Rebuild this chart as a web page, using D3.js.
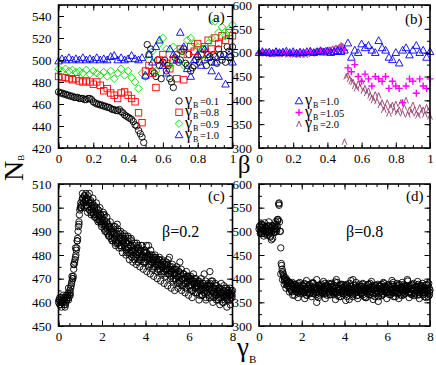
<!DOCTYPE html>
<html><head><meta charset="utf-8">
<script src="https://cdn.jsdelivr.net/npm/d3@7"></script>
<style>body{margin:0;background:#fff}svg{display:block}text{font-family:"Liberation Serif","Times New Roman",serif;fill:#000}</style>
</head><body><svg id="c" width="436" height="365"></svg>
<script>
// ---------- DATA ----------
// panel (a): N_B vs beta
const aG01 = [471,470,470,469,469,468,468,467,467,466, 466,466,465,465,465,464,464,465,465,464,
  462,461,460,460,459,459,458,458,457,457, 456,455,455,454,454,455,453,452,450,449,
  448,447,446,444,441,440,436,433,430,425, 485,514,505,510,490,488,485,500,495,483,
  498,500,490,495,483,480,475,502,505,498, 500,508,510,497,495,505,490,493,495,500,
  503,498,505,510,500,495,505,503,498,505, 503,497,510,505,500,505,498,512,508,503, 512]; // step 0.01
const aG08 = [485,484,484,483,482,483,481,480,481,480,478,480,477,472,474,470,468,465,470,471,468,465,462,452,443,
  490,495,488,475,500,505,497,492,500,483,510,482,505,512,508,515,505,512,518,510,520,515,522,518,525,522]; // step 0.02
const aG09 = [492,490,492,490,491,489,490,488,491,487,490,488,486,489,485,490,483,488,492,486,490,484,480,474,488,
  485,500,508,490,515,520,510,495,512,500,508,495,518,520,515,512,510,500,515,520,535,525,530,522,528,532];
const aG10 = [499,501,500,502,500,501,500,502,500,501,500,502,500,501,500,503,504,500,502,500,501,504,501,500,502,
  486,505,498,512,518,495,488,510,505,500,525,512,492,485,500,505,495,510,502,490,498,485,503,478,505,498];
const aLabels = ["=0.1","=0.8","=0.9","=1.0"];

// panel (b)
const bG10 = [500,502,500,501,499,502,500,501,503,500,502,499,501,500,502,503,500,502,504,501,503,500,502,504,502,
  505,520,490,505,500,518,510,515,505,500,525,510,505,490,485,500,478,505,510,495,505,515,500,505,490,502]; // step 0.02
const bG105 = [499,501,500,498,500,502,499,501,500,498,500,499,501,498,500,502,500,501,503,502,504,505,506,507,510,
  505,468,460,475,450,440,455,445,430,450,445,440,450,425,440,430,425,395,430,445,440,415,445,430,425,445];
const bG20 = [500,499,500,498,499,500,498,499,497,499, 498,500,497,499,498,497,499,496,498,497,
  497,496,498,495,497,496,498,495,497,499, 500,498,501,502,500,503,501,504,502,505,
  503,506,504,508,506,510,508,512,515,513, 313,450,452,445,440,438,430,425,435,428,
  440,420,425,415,420,410,405,400,412,398, 410,390,395,380,385,395,372,385,390,378,
  392,375,380,395,372,385,400,370,380,375, 390,380,372,368,385,375,380,370,385,378, 366]; // step 0.01
const bLabels = ["=1.0","=1.05","=2.0"];

// panel (c): beta = 0.2, N_B vs gamma_B  (interleaved sweeps)
const cRunA = [460,461,459,460,461,460,462,461,459,463,462,464,462,465,466,468,470,471,476,478,480,483,487,492,497,
  500,501,503,504,502,505,503,504,501,505,502,499,503,500,502,498,501,499,497,500,497,499,495,497,494,
  496,495,493,497,492,494,491,493,490,492,489,491,488,490,487,492,486,489,491,485,487,489,484,486,488,
  486,484,488,482,485,483,487,481,484,486,482,480,484,482,479,485,481,483,478,482,480,484,479,481,477,
  481,484,478,480,476,479,482,477,479,475,478,480,476,478,474,477,479,473,476,478,475,472,476,474,477,
  474,478,472,475,471,473,476,470,474,472,469,475,471,473,468,472,474,470,467,472,470,468,473,469,471,
  470,467,471,465,469,472,468,466,470,467,469,466,463,468,470,466,468,465,467,469,466,464,468,466,473,
  467,465,469,464,466,468,463,467,465,462,466,464,468,463,465,467,462,466,464,461,465,463,466,462,464,465];
const cRunB = [461,459,460,462,460,461,459,462,460,461,463,461,463,464,467,469,470,474,477,479,482,486,490,494,499,
  502,500,504,502,505,503,501,504,500,503,499,502,498,501,499,497,500,496,498,495,499,496,494,497,493,
  494,497,491,493,490,494,489,492,488,491,487,490,486,489,487,484,488,485,490,486,484,487,483,486,485,
  487,483,485,481,486,483,480,484,482,479,483,481,478,482,480,483,477,481,479,482,478,480,477,481,479,
  477,481,479,475,478,480,476,478,474,477,479,475,477,473,476,478,474,476,472,475,477,473,475,471,474,
  476,472,474,470,473,475,469,472,474,470,472,468,471,473,469,471,467,470,472,468,470,466,469,471,467,
  469,466,470,467,465,468,470,466,468,464,467,469,465,467,463,466,468,464,466,462,465,467,463,466,468,
  465,463,466,462,464,467,463,465,461,464,466,462,464,460,463,465,461,463,466,462,464,461,463,465,462];
const cRunC = [462,458,463,458,461,466,463,471,476,483,
  486,493,500,506,500,506,498,506,497,504,
  496,502,494,500,492,498,490,496,488,494,
  486,492,485,493,483,490,481,489,480,488,
  478,487,477,485,476,484,475,484,474,482,
  473,484,472,480,471,479,470,478,469,477,
  468,476,467,479,466,474,465,474,466,477,
  465,472,464,471,463,470,462,469,464,468,
  461,467,463,472,461,467,462,469,460,466,
  461,465,459,464,460,463,458,464,459,463];

// panel (d): beta = 0.8
const dRunA = [505,512,498,515,502,508,495,510,500,505,497,512,503,490,508,500,485,505,510,498,515,505,522,558,520,
  500,432,420,412,405,398,402,395,390,385,393,380,388,375,392,383,378,387,372,385,380,390,377,368,383,
  378,386,372,390,380,375,365,383,378,388,370,382,376,392,368,380,385,372,378,386,365,380,374,388,370,
  382,376,390,368,379,385,372,380,366,388,375,382,370,378,393,372,380,365,384,376,370,388,374,380,368,
  379,385,372,362,380,376,390,370,383,375,398,368,380,386,372,378,365,384,374,380,370,388,376,362,380,
  374,385,368,380,376,390,372,382,365,378,386,370,380,375,388,362,378,384,372,380,368,390,376,382,370,
  378,386,372,380,366,384,376,392,370,380,375,385,368,378,388,372,380,364,382,376,370,386,374,380,395,
  378,372,385,368,380,376,390,370,382,374,365,384,378,370,386,374,380,366,382,376,370,388,375,362,380,376];
const dRunB = [510,500,508,495,512,503,518,498,506,492,510,500,496,507,482,512,502,498,506,520,500,510,525,555,500,
  465,428,415,408,400,396,390,398,385,392,382,378,390,372,384,380,365,388,376,382,370,386,374,380,372,
  376,384,370,388,380,365,378,372,386,368,380,374,390,370,382,376,366,350,380,372,386,368,378,384,372,
  368,380,374,386,365,378,384,370,376,390,372,380,366,384,374,398,370,380,362,376,386,372,380,368,384,
  376,370,388,374,380,356,384,372,378,366,386,376,370,382,364,380,374,388,370,378,384,366,380,374,360,
  382,372,378,388,366,380,374,384,370,378,362,386,374,380,368,384,376,372,388,366,380,374,384,370,378,
  372,384,366,380,376,388,370,378,384,362,380,374,386,370,378,366,384,376,372,388,368,380,376,384,370,
  384,370,378,366,386,374,380,368,384,376,372,388,366,380,374,384,370,378,362,386,374,380,368,390,366];
const dRunC = [495,515,490,508,500,520,488,512,498,505,
  525,560,410,398,388,380,395,372,390,365,
  388,378,360,392,374,384,358,396,370,380,
  362,390,376,398,360,384,370,394,358,380,
  390,366,384,372,356,392,378,362,388,374,
  354,386,370,396,362,380,392,358,384,368,
  390,376,360,388,372,394,356,382,370,352,
  386,364,392,374,358,388,370,396,362,380,
  390,358,376,392,366,384,398,360,378,388,
  364,382,394,358,376,390,370,360,386,372];

// ---------- DRAW ----------
const svg = d3.select("#c");
const FS = 13;

function axes(g, x, y, o) {
  const [x0,x1] = x.range(), [y1,y0] = y.range();
  const fmt = d => String(+(+d).toFixed(2));
  const mk = (axisFn, scale, ticks, size, labels) => {
    const a = axisFn(scale).tickValues(ticks).tickSize(size).tickPadding(labels ? o.pad : 0);
    a.tickFormat(labels ? fmt : () => "");
    return a;
  };
  const sets = [
    [d3.axisBottom, x, `translate(0,${y1})`, o.xMaj, o.xMin, true],
    [d3.axisTop, x, `translate(0,${y0})`, o.xMaj, o.xMin, false],
    [d3.axisLeft, y, `translate(${x0},0)`, o.yMaj, o.yMin, true],
    [d3.axisRight, y, `translate(${x1},0)`, o.yMaj, o.yMin, false]
  ];
  sets.forEach(([fn, sc, tr, maj, min, lab]) => {
    g.append("g").attr("transform", tr).call(mk(fn, sc, min, -3, false)).call(s => s.select(".domain").remove());
    const ga = g.append("g").attr("transform", tr).call(mk(fn, sc, maj, -5.5, lab));
    ga.select(".domain").remove();
    ga.selectAll("text").attr("font-size", FS).attr("font-family", "Liberation Serif");
    if (lab && fn === d3.axisLeft) ga.selectAll("text").attr("dx", -1);
  });
  g.selectAll(".tick line").attr("stroke", "#000").attr("stroke-width", 1);
  g.append("rect").attr("x", x0).attr("y", y0).attr("width", x1 - x0).attr("height", y1 - y0)
    .attr("fill", "none").attr("stroke", "#000").attr("stroke-width", 1.6);
}

const rng = (a, b, s) => d3.range(a, b + s / 2, s);

function marker(sel, type) {
  if (type === "circle") sel.append("circle").attr("r", 3.2).attr("fill", "none").attr("stroke", "#000").attr("stroke-width", 0.9);
  if (type === "square") sel.append("rect").attr("x", -3.2).attr("y", -3.2).attr("width", 6.4).attr("height", 6.4).attr("fill", "none").attr("stroke", "#ff0000").attr("stroke-width", 0.9);
  if (type === "diamond") sel.append("path").attr("d", "M0,-3.8L3.8,0L0,3.8L-3.8,0Z").attr("fill", "none").attr("stroke", "#00dd00").attr("stroke-width", 0.9);
  if (type === "tri") sel.append("path").attr("d", "M0,-4L3.8,2.8L-3.8,2.8Z").attr("fill", "none").attr("stroke", "#0000ff").attr("stroke-width", 0.9);
  if (type === "plus") sel.append("path").attr("d", "M-3.5,0H3.5M0,-3.5V3.5").attr("stroke", "#ff00ff").attr("stroke-width", 1.4);
  if (type === "caret") sel.append("path").attr("d", "M-2.4,3L0,-3L2.4,3").attr("fill", "none").attr("stroke", "#94406f").attr("stroke-width", 0.9);
}

function series(g, x, y, xs, ys, type) {
  const pts = g.append("g").selectAll("g").data(ys.map((v, i) => [xs[i], v]).filter(d => d[0] !== undefined)).join("g")
    .attr("transform", d => `translate(${x(d[0])},${y(d[1])})`);
  pts.each(function () { marker(d3.select(this), type); });
}

function legendRow(g, px, py, type, txt) {
  marker(g.append("g").attr("transform", `translate(${px},${py})`), type);
  const t = g.append("text").attr("x", px + 6).attr("y", py + 4);
  t.append("tspan").attr("font-size", 16).text("γ");
  t.append("tspan").attr("font-size", 8).attr("dy", 3).attr("dx", 1).text("B");
  t.append("tspan").attr("font-size", 10.5).attr("dy", -3).attr("dx", 1.5).text(txt);
}

// Panel (a)
{
  const x = d3.scaleLinear().domain([0, 1]).range([58.5, 232.5]);
  const y = d3.scaleLinear().domain([420, 550]).range([148, 5]);
  const g = svg.append("g");
  series(g, x, y, rng(0, 1, 0.01), aG01, "circle");
  series(g, x, y, rng(0, 1, 0.02), aG08, "square");
  series(g, x, y, rng(0, 1, 0.02), aG09, "diamond");
  series(g, x, y, rng(0, 1, 0.02), aG10, "tri");
  axes(g, x, y, {xMaj: rng(0, 1, 0.2), xMin: rng(0, 1, 0.05), yMaj: rng(420, 540, 20), yMin: rng(420, 550, 10), pad: 6});
  ["circle", "square", "diamond", "tri"].forEach((t, i) => legendRow(g, 179, 101 + i * 11.3, t, aLabels[i]));
  g.append("text").attr("x", 208).attr("y", 22).attr("font-size", 15).text("(a)");
}
// Panel (b)
{
  const x = d3.scaleLinear().domain([0, 1]).range([259, 430]);
  const y = d3.scaleLinear().domain([300, 600]).range([148, 5]);
  const g = svg.append("g");
  series(g, x, y, rng(0, 1, 0.01), bG20, "caret");
  series(g, x, y, rng(0, 1, 0.02), bG105, "plus");
  series(g, x, y, rng(0, 1, 0.02), bG10, "tri");
  axes(g, x, y, {xMaj: rng(0, 1, 0.2), xMin: rng(0, 1, 0.05), yMaj: rng(300, 600, 50), yMin: rng(300, 600, 25), pad: 6});
  ["tri", "plus", "caret"].forEach((t, i) => legendRow(g, 299, 101 + i * 11.5, t, bLabels[i]));
  g.append("text").attr("x", 405).attr("y", 24).attr("font-size", 15).text("(b)");
}
// Panel (c)
{
  const x = d3.scaleLinear().domain([0, 8]).range([58.5, 232.5]);
  const y = d3.scaleLinear().domain([450, 510]).range([326, 184]);
  const g = svg.append("g");
  series(g, x, y, rng(0, 8, 0.04), cRunA, "circle");
  series(g, x, y, rng(0.02, 7.98, 0.04), cRunB, "circle");
  series(g, x, y, rng(0.06, 7.98, 0.08), cRunC, "circle");
  axes(g, x, y, {xMaj: rng(0, 8, 2), xMin: rng(0, 8, 0.5), yMaj: rng(450, 510, 10), yMin: rng(450, 510, 5), pad: 6});
  g.append("text").attr("x", 208).attr("y", 201).attr("font-size", 15).text("(c)");
  g.append("text").attr("x", 162).attr("y", 237).attr("font-size", 16).text("β=0.2");
}
// Panel (d)
{
  const x = d3.scaleLinear().domain([0, 8]).range([259, 430]);
  const y = d3.scaleLinear().domain([300, 600]).range([326, 184]);
  const g = svg.append("g");
  series(g, x, y, rng(0, 8, 0.04), dRunA, "circle");
  series(g, x, y, rng(0.02, 7.98, 0.04), dRunB, "circle");
  series(g, x, y, rng(0.06, 7.98, 0.08), dRunC, "circle");
  axes(g, x, y, {xMaj: rng(0, 8, 2), xMin: rng(0, 8, 0.5), yMaj: rng(300, 600, 50), yMin: rng(300, 600, 25), pad: 6});
  g.append("text").attr("x", 406).attr("y", 201).attr("font-size", 15).text("(d)");
  g.append("text").attr("x", 346).attr("y", 237).attr("font-size", 16).text("β=0.8");
}
// Axis titles
{
  const t = svg.append("text").attr("transform", "translate(23,181) rotate(-90)");
  t.append("tspan").attr("font-size", 28).text("N");
  t.append("tspan").attr("font-size", 9).attr("dy", 1).text("B");
  svg.append("text").attr("x", 244).attr("y", 173).attr("text-anchor", "middle").attr("font-size", 25).text("β");
  const g2 = svg.append("text").attr("x", 237).attr("y", 356);
  g2.append("tspan").attr("font-size", 27).text("γ");
  g2.append("tspan").attr("font-size", 11).attr("dy", 7).text("B");
}
</script></body></html>
